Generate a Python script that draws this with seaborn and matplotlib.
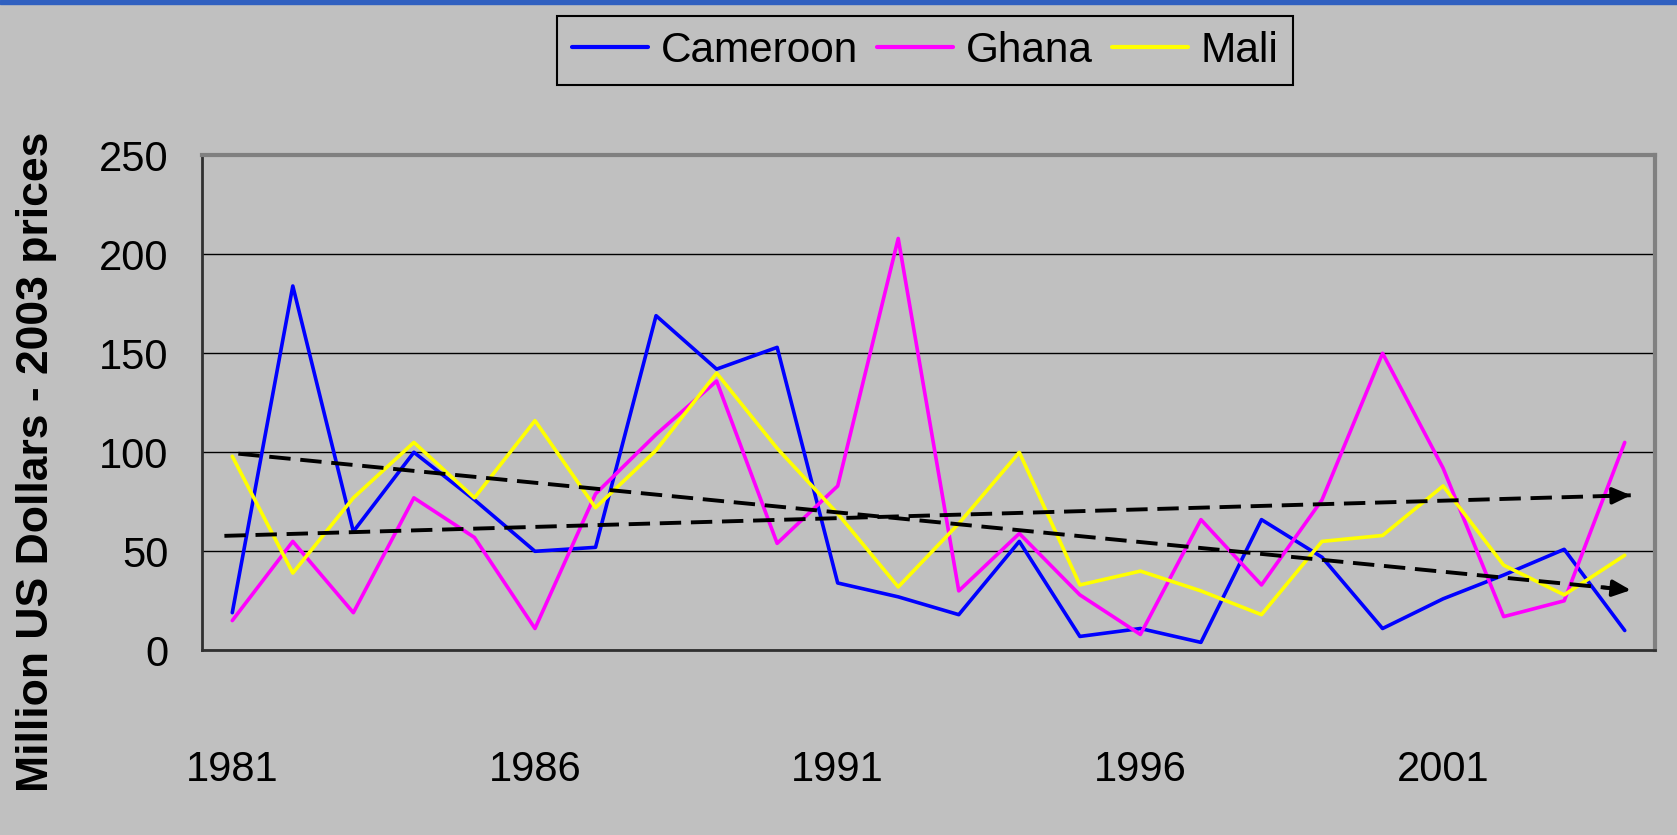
import numpy as np
import pandas as pd
import seaborn as sns
import matplotlib.pyplot as plt
from matplotlib.patches import Rectangle

sns.set_style("white", {"axes.facecolor": "#C0C0C0", "figure.facecolor": "#C0C0C0",
                        "text.color": "black", "xtick.color": "black", "ytick.color": "black",
                        "axes.labelcolor": "black"})
plt.rcParams['font.family'] = ['Liberation Sans', 'DejaVu Sans']

years = list(range(1981, 2005))
cameroon = [19, 184, 60, 100, 76, 50, 52, 169, 142, 153, 34, 27, 18, 55, 7, 11, 4, 66, 47, 11, 26, 38, 51, 10]
ghana = [15, 55, 19, 77, 57, 11, 79, 109, 136, 54, 83, 208, 30, 59, 28, 8, 66, 33, 76, 150, 92, 17, 25, 105]
mali = [98, 39, 77, 105, 77, 116, 72, 101, 140, 102, 69, 32, 64, 100, 33, 40, 30, 18, 55, 58, 83, 43, 28, 48]

# hand drawn trend arrows (start year, start value, end year, end value)
trend_down = [1981.1, 99.3, 2004.1, 30.4]
trend_up = [1980.87, 57.8, 2004.1, 78.3]

tick_years = [1981, 1986, 1991, 1996, 2001]
colors = {"Cameroon": "#0000FF", "Ghana": "#FF00FF", "Mali": "#FFFF00"}

df = pd.DataFrame({
    "year": years * 3,
    "value": cameroon + ghana + mali,
    "country": ["Cameroon"] * 24 + ["Ghana"] * 24 + ["Mali"] * 24,
})

fig = plt.figure(figsize=(16.77, 8.35), dpi=100)
ax = fig.add_axes([202 / 1677, 1 - 650.3 / 835, 1453 / 1677, 495 / 835])

sns.lineplot(data=df, x="year", y="value", hue="country", palette=colors,
             linewidth=2.6, ax=ax, legend=True)

# trend lines with arrow heads
for t in (trend_down, trend_up):
    x0, y0, x1, y1 = t
    ax.plot([x0, x1], [y0, y1], color="black", lw=2.8, ls=(0, (5.5, 2.5)), zorder=5)
    frac = 0.02
    ax.annotate("", xy=(x1, y1), xytext=(x1 - (x1 - x0) * frac, y1 - (y1 - y0) * frac),
                arrowprops=dict(arrowstyle="-|>,head_length=0.55,head_width=0.25",
                                color="black", lw=2.6, shrinkA=0, shrinkB=0,
                                mutation_scale=20), zorder=6)

ax.set_xlim(1980.5, 2004.5)
ax.set_ylim(0, 250)
ax.set_yticks([0, 50, 100, 150, 200, 250])
ax.yaxis.grid(True, color="black", lw=1)
ax.set_axisbelow(True)

# boundary ticks as major ticks, year labels on minor ticks
ax.set_xticks(np.arange(1980.5, 2005, 1))
ax.set_xticklabels([])
ax.set_xticks(tick_years, minor=True)
ax.set_xticklabels([str(y) for y in tick_years], minor=True)
ax.tick_params(axis="x", which="major", direction="out", length=12.5, width=1.5, color="#303030")
ax.tick_params(axis="x", which="minor", length=0, pad=72, labelsize=30, labelcolor="black")
ax.tick_params(axis="y", direction="out", length=12, width=1.5, color="#303030", pad=12,
               labelsize=30, labelcolor="black")

for side in ("left", "bottom"):
    ax.spines[side].set_color("#303030")
    ax.spines[side].set_linewidth(2)
for side in ("top", "right"):
    ax.spines[side].set_visible(True)
    ax.spines[side].set_color("#808080")
    ax.spines[side].set_linewidth(3)

ax.set_xlabel("")
ax.set_ylabel("Million US Dollars - 2003 prices", fontsize=32, fontweight="bold",
              va="center", color="black")
ax.yaxis.set_label_coords(-0.1142, 0.381)

handles, labels = ax.get_legend_handles_labels()
ax.get_legend().remove()
for h in handles:
    h.set_linewidth(3)
leg = fig.legend(handles, labels, loc="center", bbox_to_anchor=(925 / 1677, 1 - 50.5 / 835),
                 ncol=3, fontsize=30.5, frameon=True, fancybox=False, framealpha=1,
                 edgecolor="black", handlelength=1.8, handletextpad=0.3,
                 columnspacing=0.45, borderpad=0.35, labelcolor="black")
leg.get_frame().set_linewidth(1.5)

# blue band along the top
fig.add_artist(Rectangle((0, 1 - 4 / 835), 1, 4 / 835, transform=fig.transFigure,
                         color="#3060C0", zorder=10))

fig.savefig("out.png", dpi=100, facecolor=fig.get_facecolor())
